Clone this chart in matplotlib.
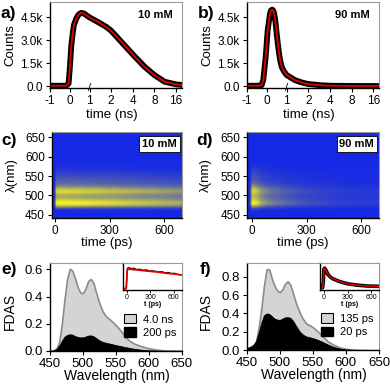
import numpy as np
import matplotlib
matplotlib.use('Agg')
import matplotlib.pyplot as plt
from matplotlib.colors import LinearSegmentedColormap, PowerNorm
from matplotlib.patches import Patch

plt.rcParams['font.family'] = ['Liberation Sans', 'DejaVu Sans']

# ---- data ----
# TCSPC decays (time in ns, counts)
t_a = [-1.0, -0.5, -0.17, -0.05, 0.015, 0.08, 0.15, 0.215, 0.33, 0.45, 0.58, 0.715, 1.0,
       1.3, 1.7, 2.0, 2.76, 4.0, 5.84, 8.0, 11.1, 16.0, 19.2]
counts_a = [20, 20, 20, 170, 1260, 2570, 3400, 4000, 4400, 4680, 4790, 4750, 4490,
            4200, 3880, 3620, 2900, 2070, 1260, 720, 280, 110, 70]
t_b = [-1.0, -0.42, -0.25, -0.17, -0.05, 0.05, 0.17, 0.22, 0.28, 0.33, 0.38, 0.44, 0.5,
       0.56, 0.62, 0.68, 0.75, 0.87, 1.0, 1.3, 1.6, 2.0, 3.0, 4.0, 8.0, 19.2]
counts_b = [20, 20, 60, 400, 1900, 3660, 4750, 4950, 5000, 4930, 4720, 4200, 3440,
            2750, 2130, 1650, 1260, 950, 720, 390, 240, 130, 50, 20, 5, 0]
ns_ticks = [-1, 0, 1, 2, 4, 8, 16]

# FDAS spectra (nm)
wl = [440, 450, 455, 460, 464, 468, 472, 476, 480, 484, 488, 492, 496, 500, 504, 508, 512,
      516, 520, 525, 530, 535, 540, 546, 552, 558, 565, 572, 580, 590, 600, 612, 625, 640, 665]
fdas_e_long = [0, 0, 0.005, 0.02, 0.07, 0.2, 0.38, 0.53, 0.605, 0.59, 0.535, 0.47, 0.43, 0.425,
               0.46, 0.515, 0.53, 0.5, 0.43, 0.35, 0.29, 0.255, 0.235, 0.21, 0.18, 0.145, 0.1,
               0.07, 0.05, 0.033, 0.02, 0.01, 0.004, 0.001, 0]
fdas_e_short = [0, 0, 0.003, 0.015, 0.04, 0.075, 0.105, 0.118, 0.123, 0.12, 0.11, 0.103, 0.1,
                0.1, 0.106, 0.113, 0.115, 0.108, 0.095, 0.078, 0.067, 0.06, 0.055, 0.048, 0.041,
                0.035, 0.028, 0.021, 0.015, 0.009, 0.005, 0.003, 0.001, 0, 0]
fdas_f_long = [0, 0.02, 0.03, 0.045, 0.09, 0.25, 0.45, 0.7, 0.88, 0.88, 0.78, 0.7, 0.65, 0.63,
               0.665, 0.725, 0.75, 0.71, 0.62, 0.5, 0.41, 0.34, 0.29, 0.27, 0.24, 0.2, 0.15, 0.1,
               0.065, 0.032, 0.016, 0.007, 0.003, 0.001, 0]
fdas_f_short = [0, 0.025, 0.036, 0.06, 0.1, 0.19, 0.3, 0.38, 0.4, 0.395, 0.37, 0.345, 0.333,
                0.33, 0.345, 0.358, 0.36, 0.352, 0.32, 0.26, 0.205, 0.17, 0.15, 0.14, 0.128,
                0.112, 0.09, 0.065, 0.04, 0.02, 0.009, 0.004, 0.001, 0, 0]
labels_e = ['4.0 ns', '200 ps']
labels_f = ['135 ps', '20 ps']

# kinetics for insets (ps, normalised)
t_kin_e = [-50, -5, 0, 8, 20, 50, 100, 200, 300, 400, 500, 600, 710]
fit_e = [0.055, 0.055, 0.3, 0.76, 0.78, 0.775, 0.76, 0.73, 0.7, 0.67, 0.63, 0.6, 0.56]
t_dat_e = [-50, -25, -5, 10, 30, 60, 90, 130, 170, 210, 250, 290, 330, 370, 410, 450, 490,
           530, 570, 610, 650, 700]
dat_e = [0.06, 0.05, 0.06, 0.82, 0.84, 0.8, 0.82, 0.77, 0.78, 0.74, 0.76, 0.71, 0.72, 0.7,
         0.68, 0.69, 0.64, 0.66, 0.62, 0.63, 0.58, 0.57]
t_kin_f = [-50, -17, -8, 0, 8, 30, 51, 80, 114, 178, 240, 305, 431, 558, 710]
fit_f = [0.084, 0.084, 0.3, 0.79, 0.82, 0.72, 0.58, 0.49, 0.42, 0.34, 0.28, 0.23, 0.18, 0.147, 0.137]

# ---- style helpers ----
GRAY = '#9a9a9a'


def frame(ax):
    ax.spines['top'].set_color(GRAY)
    ax.spines['right'].set_color(GRAY)
    ax.spines['top'].set_linewidth(0.8)
    ax.spines['right'].set_linewidth(0.8)
    ax.spines['left'].set_linewidth(1.0)
    ax.spines['bottom'].set_linewidth(1.0)


k = 21.7 / 20.0


def fwd(t):
    t = np.asarray(t, dtype=float)
    return np.where(t <= 1, t, 1 + k * np.log2(np.maximum(t, 1e-9)))


def inv(u):
    u = np.asarray(u, dtype=float)
    return np.where(u <= 1, u, 2 ** ((u - 1) / k))


cmap = LinearSegmentedColormap.from_list('blueyellow', ['#1528e6', '#f5f01e'])

fig = plt.figure(figsize=(3.9, 3.86), dpi=100)

# ---- a, b: decays ----
for pos, t, c, lab, conc in [([0.1274, 0.7712, 0.3385, 0.2236], t_a, counts_a, 'a)', '10 mM'),
                             ([0.6326, 0.7712, 0.3392, 0.2236], t_b, counts_b, 'b)', '90 mM')]:
    ax = fig.add_axes(pos)
    ax.set_xscale('function', functions=(fwd, inv))
    ax.plot(t, c, color='black', lw=4.2, solid_capstyle='round')
    ax.plot(t, c, color='#e00000', lw=1.3)
    ax.set_xlim(-1.0, 19.2)
    ax.set_ylim(-150, 5500)
    ax.set_xticks(ns_ticks)
    ax.set_xticklabels([str(v) for v in ns_ticks])
    ax.set_yticks([0, 1500, 3000, 4500])
    ax.set_yticklabels(['0.0', '1.5k', '3.0k', '4.5k'])
    ax.minorticks_off()
    ax.tick_params(direction='out', length=3, width=0.8, labelsize=8.5, pad=2)
    frame(ax)
    ax.text(1, 0, '/', transform=ax.get_xaxis_transform(), ha='center', va='center',
            fontsize=8)
    ax.set_xlabel('time (ns)', fontsize=9.5, va='center')
    ax.xaxis.set_label_coords(0.47, -0.31)
    ax.set_ylabel('Counts', fontsize=9.5, va='center')
    ax.yaxis.set_label_coords(-0.30, 0.5)
    ax.text(0.8, 0.85, conc, transform=ax.transAxes, ha='center', va='center',
            fontsize=8, fontweight='bold')
    fig.text(pos[0] - 0.105, 0.966, lab, ha='center', va='center', fontsize=12.5,
             fontweight='bold')

# ---- c, d: streak maps ----
for pos, spec_l, spec_s, tk, kin, xl, gam, lab, conc in [
        ([0.1326, 0.4345, 0.3333, 0.2244], fdas_e_long, fdas_e_short, t_kin_e, fit_e,
         (-18, 697), 1.5, 'c)', '10 mM'),
        ([0.6341, 0.4345, 0.3385, 0.2244], fdas_f_long, fdas_f_short, t_kin_f, fit_f,
         (-27, 702), 1.3, 'd)', '90 mM')]:
    ax = fig.add_axes(pos)
    spec = np.array(spec_l) + np.array(spec_s)
    Z = np.outer(spec, np.array(kin))
    ax.pcolormesh(tk, wl, Z, shading='gouraud', cmap=cmap,
                  norm=PowerNorm(gamma=gam, vmin=0, vmax=Z.max() * 0.95), rasterized=True)
    ax.set_xlim(*xl)
    ax.set_ylim(441, 665)
    ax.set_xticks([0, 300, 600])
    ax.set_yticks([450, 500, 550, 600, 650])
    ax.tick_params(direction='out', length=3, width=0.8, labelsize=8.5, pad=2)
    frame(ax)
    ax.set_xlabel('time (ps)', fontsize=9.5, va='center')
    ax.xaxis.set_label_coords(0.42, -0.285)
    ax.set_ylabel('λ(nm)', fontsize=9.5, va='center')
    ax.yaxis.set_label_coords(-0.31, 0.5)
    ax.text(0.83, 0.86, conc, transform=ax.transAxes, ha='center', va='center',
            fontsize=8, fontweight='bold',
            bbox=dict(boxstyle='square,pad=0.25', facecolor='white', edgecolor='black',
                      linewidth=0.6))
    fig.text(pos[0] - 0.11, 0.637, lab, ha='center', va='center', fontsize=12.5,
             fontweight='bold')

# ---- e, f: FDAS ----
for pos, ins, long_, short_, labs, yl, yt, lab in [
        ([0.1282, 0.0907, 0.3377, 0.2272], [0.3146, 0.2487, 0.1513, 0.0692],
         fdas_e_long, fdas_e_short, labels_e, 0.645, [0.0, 0.2, 0.4, 0.6], 'e)'),
        ([0.6326, 0.0925, 0.3392, 0.2254], [0.8205, 0.2487, 0.1513, 0.0692],
         fdas_f_long, fdas_f_short, labels_f, 0.945, [0.0, 0.2, 0.4, 0.6, 0.8], 'f)')]:
    ax = fig.add_axes(pos)
    ax.fill_between(wl, long_, color='#d4d4d4', edgecolor='#8c8c8c', lw=1.2)
    ax.fill_between(wl, short_, color='black', lw=0.6)
    ax.set_xlim(450, 650)
    ax.set_ylim(0, yl)
    ax.set_xticks([450, 500, 550, 600, 650])
    ax.set_yticks(yt)
    ax.set_yticklabels([f'{v:.1f}' for v in yt])
    ax.tick_params(direction='out', length=3, width=0.8, labelsize=9.5, pad=2)
    frame(ax)
    ax.set_xlabel('Wavelength (nm)', fontsize=10, va='center')
    ax.xaxis.set_label_coords(0.505, -0.285)
    ax.set_ylabel('FDAS', fontsize=10, va='center')
    ax.yaxis.set_label_coords(-0.305, 0.45)
    handles = [Patch(facecolor='#d4d4d4', edgecolor='black', linewidth=0.8),
               Patch(facecolor='black', edgecolor='black')]
    ax.legend(handles, labs, loc='lower right', bbox_to_anchor=(0.99, 0.1), frameon=False,
              fontsize=8, handlelength=1.1, handleheight=0.9, handletextpad=0.6,
              labelspacing=0.25, borderaxespad=0)
    fig.text(pos[0] - 0.105, 0.303, lab, ha='center', va='center', fontsize=12.5,
             fontweight='bold')

    axi = fig.add_axes(ins)
    if lab == 'e)':
        axi.plot(t_dat_e, dat_e, color='black', lw=0.8)
        axi.plot(t_kin_e, fit_e, color='#e00000', lw=1.3)
    else:
        axi.plot(t_kin_f, fit_f, color='black', lw=2.6)
        axi.plot(t_kin_f, fit_f, color='#e00000', lw=1.1)
    axi.set_xlim(-50, 700)
    axi.set_ylim(0, 1)
    axi.set_xticks([0, 300, 600])
    axi.set_yticks([])
    axi.tick_params(direction='out', length=2, width=0.6, labelsize=5, pad=1)
    frame(axi)
    axi.set_xlabel('t (ps)', fontsize=5, fontweight='bold', labelpad=0)

fig.savefig('out.png', dpi=100)
